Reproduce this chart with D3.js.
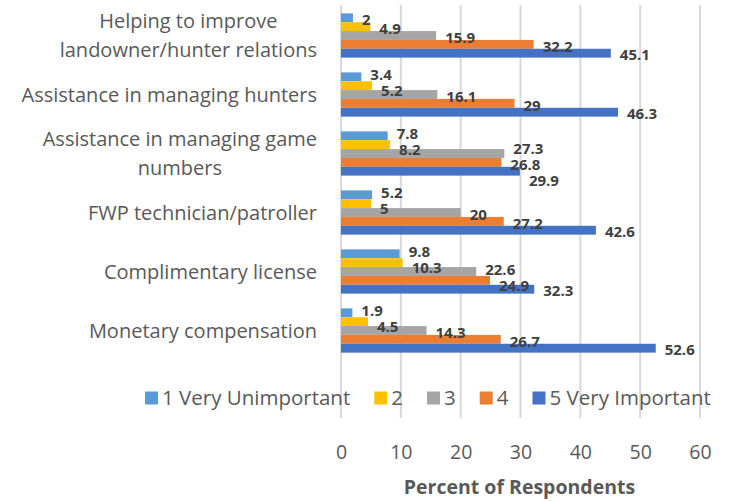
<!DOCTYPE html>
<html>
<head>
<meta charset="utf-8">
<script src="https://cdnjs.cloudflare.com/ajax/libs/d3/7.8.5/d3.min.js"></script>
<style>
  body { margin: 0; background: #fff; }
  text { font-family: "Open Sans", Lato, sans-serif; }
</style>
</head>
<body>
<div id="chart"></div>
<script>
// categories, top to bottom
var categories = [
  ['Helping to improve', 'landowner/hunter relations'],
  ['Assistance in managing hunters'],
  ['Assistance in managing game', 'numbers'],
  ['FWP technician/patroller'],
  ['Complimentary license'],
  ['Monetary compensation']
];
var seriesNames = ['1 Very Unimportant', '2', '3', '4', '5 Very Important'];
var seriesColors = ['#5B9BD5', '#FFC000', '#A5A5A5', '#ED7D31', '#4472C4'];

var veryUnimportant = [2, 3.4, 7.8, 5.2, 9.8, 1.9];
var two   = [4.9, 5.2, 8.2, 5, 10.3, 4.5];
var three = [15.9, 16.1, 27.3, 20, 22.6, 14.3];
var four  = [32.2, 29, 26.8, 27.2, 24.9, 26.7];
var veryImportant = [45.1, 46.3, 29.9, 42.6, 32.3, 52.6];
var seriesValues = [veryUnimportant, two, three, four, veryImportant];

var xTicks = [0, 10, 20, 30, 40, 50, 60];

var width = 732, height = 501;
var textGray = '#595959', labelGray = '#404040', gridGray = '#D9D9D9';

var svg = d3.select('#chart').append('svg')
    .attr('width', width)
    .attr('height', height);

var x = d3.scaleLinear().domain([0, 60]).range([341, 700]);
var y = d3.scaleBand()
    .domain(d3.range(categories.length))
    .range([6, 360])
    .paddingInner(0.25)
    .paddingOuter(0.125);
var ySub = d3.scaleBand()
    .domain(d3.range(seriesNames.length))
    .range([0, y.bandwidth()]);

// gridlines run through the legend area, as in the original
svg.append('g').selectAll('line')
    .data(xTicks)
    .enter().append('line')
    .attr('x1', function(d) { return x(d); })
    .attr('x2', function(d) { return x(d); })
    .attr('y1', 5)
    .attr('y2', 418)
    .attr('stroke', gridGray)
    .attr('stroke-width', 2);

// bars
var rows = [];
categories.forEach(function(c, i) {
  seriesValues.forEach(function(vals, s) {
    rows.push({cat: i, s: s, v: vals[i]});
  });
});

svg.append('g').selectAll('rect')
    .data(rows)
    .enter().append('rect')
    .attr('x', x(0))
    .attr('y', function(d) { return y(d.cat) + ySub(d.s); })
    .attr('width', function(d) { return x(d.v) - x(0); })
    .attr('height', ySub.bandwidth())
    .attr('fill', function(d) { return seriesColors[d.s]; });

var labels = svg.append('g').selectAll('text')
    .data(rows)
    .enter().append('text')
    .attr('x', function(d) { return x(d.v) + 9; })
    .attr('dy', '0.35em')
    .attr('font-size', 15)
    .attr('font-weight', 'bold')
    .attr('fill', labelGray)
    .text(function(d) { return d.v; });

// spread labels that would collide (rough version of what excel does)
labels.each(function(d) {
  d.ly = y(d.cat) + ySub(d.s) + ySub.bandwidth() / 2 + 2;
  d.lx0 = x(d.v) + 9;
  d.lx1 = d.lx0 + this.getComputedTextLength();
});
var minGap = 16;
d3.range(categories.length).forEach(function(c) {
  var grp = rows.filter(function(r) { return r.cat === c; });
  for (var it = 0; it < 80; it++) {
    for (var i = 0; i < grp.length; i++) {
      for (var j = i + 1; j < grp.length; j++) {
        var a = grp[i], b = grp[j];
        if (a.lx1 + 1 < b.lx0 || b.lx1 + 1 < a.lx0) continue;
        var dd = b.ly - a.ly;
        if (dd < minGap) {
          var shift = (minGap - dd) / 2;
          a.ly -= shift;
          b.ly += shift;
        }
      }
    }
  }
});
labels.attr('y', function(d) { return d.ly; });

// category labels
var catLabels = svg.append('g').selectAll('text')
    .data(categories)
    .enter().append('text')
    .attr('text-anchor', 'middle')
    .attr('font-size', 20)
    .attr('fill', textGray)
    .attr('transform', function(d, i) {
      return 'translate(0,' + (y(i) + y.bandwidth() / 2) + ')';
    });

catLabels.each(function(lines) {
  var t = d3.select(this);
  var lh = 29;
  lines.forEach(function(line, k) {
    t.append('tspan')
      .attr('x', 0)
      .attr('y', (k - (lines.length - 1) / 2) * lh)
      .attr('dy', '0.35em')
      .text(line);
  });
  // right align the block, keep the lines centred on each other
  var w = this.getBBox().width;
  t.selectAll('tspan').attr('x', 317 - w / 2);
});

// x axis tick labels
var xAxis = d3.axisBottom(x).tickValues(xTicks).tickSize(0).tickPadding(0);
var gx = svg.append('g')
    .attr('transform', 'translate(0,445)')
    .call(xAxis);
gx.select('.domain').remove();
gx.selectAll('text')
    .attr('font-size', 19.5)
    .attr('font-family', '"Open Sans", sans-serif')
    .attr('fill', textGray)
    .attr('dy', '0.71em');

svg.append('text')
    .attr('x', (x(0) + x(60)) / 2 - 1)
    .attr('y', 494)
    .attr('text-anchor', 'middle')
    .attr('font-size', 19.5)
    .attr('font-weight', 'bold')
    .attr('fill', textGray)
    .text('Percent of Respondents');

// legend
var legend = svg.append('g').attr('transform', 'translate(0,398)');
var lx = 145;
seriesNames.forEach(function(name, i) {
  var item = legend.append('g').attr('transform', 'translate(' + lx + ',0)');
  item.append('rect')
      .attr('x', 0).attr('y', -6.5)
      .attr('width', 13).attr('height', 13)
      .attr('fill', seriesColors[i]);
  var t = item.append('text')
      .attr('x', 17)
      .attr('dy', '0.35em')
      .attr('font-size', 20.5)
      .attr('fill', textGray)
      .text(name);
  lx += 17 + t.node().getComputedTextLength() + 24;
});
</script>
</body>
</html>
